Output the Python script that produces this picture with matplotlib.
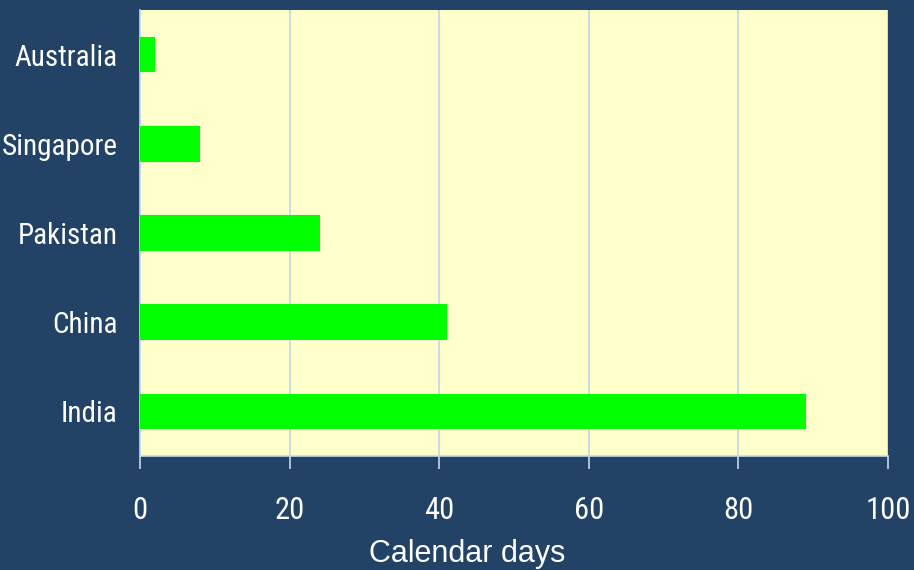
import matplotlib
matplotlib.use("Agg")
import matplotlib.pyplot as plt
from matplotlib import font_manager

countries = ["India", "China", "Pakistan", "Singapore", "Australia"]
days = [89, 41, 24, 8, 2]
xticks = [0, 20, 40, 60, 80, 100]
xlabel = "Calendar days"

names = {f.name for f in font_manager.fontManager.ttflist}
narrow = [n for n in ["Liberation Sans Narrow", "Arial Narrow", "Roboto Condensed",
                      "PT Sans Narrow", "Archivo Narrow", "Barlow Semi Condensed"] if n in names]
fam = (narrow[0] if narrow else "Liberation Sans")
plt.rcParams['font.family'] = [fam, 'DejaVu Sans']

bg = "#224266"
fig = plt.figure(figsize=(9.14, 5.70), dpi=100, facecolor=bg)
ax = fig.add_axes([140/914, 1 - 456/570, 748/914, 446/570])
ax.set_facecolor("#FFFFCC")

ax.barh(range(len(countries)), days, height=0.4, color="#00FF00", zorder=3)
ax.set_xlim(0, 100)
ax.set_ylim(-0.5, len(countries) - 0.5)
ax.set_xticks(xticks)
ax.set_xticklabels([str(t) for t in xticks])
ax.set_yticks(range(len(countries)))
ax.set_yticklabels(countries)
ax.grid(axis='x', color="#BFD8E6", linewidth=1.2, zorder=1)
ax.tick_params(axis='x', colors="#C8D8E8", labelcolor="white", labelsize=22, length=9, width=1.2, pad=20)
ax.tick_params(axis='y', length=0, labelcolor="white", labelsize=21, pad=16)
for s in ["top", "right"]:
    ax.spines[s].set_visible(False)
for s in ["left", "bottom"]:
    ax.spines[s].set_color("#C8D8E8")
    ax.spines[s].set_linewidth(1.2)
ax.set_xlabel(xlabel, color="white", fontsize=22, family=["Liberation Sans", "DejaVu Sans"])
ax.xaxis.label.set_va("baseline")
ax.xaxis.set_label_coords((467 - 140) / 748, (456 - 562) / 446)

fig.savefig("out.png", dpi=100, facecolor=bg)
